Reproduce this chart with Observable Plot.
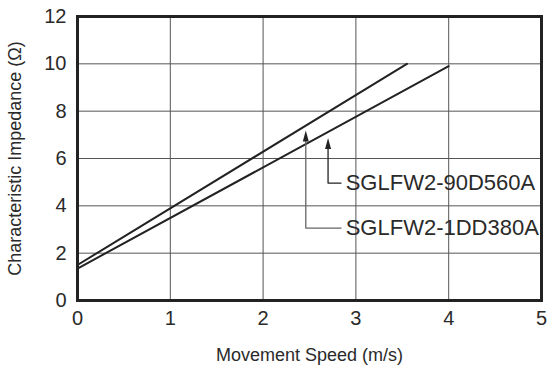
<!DOCTYPE html>
<html><head><meta charset="utf-8">
<script src="https://cdn.jsdelivr.net/npm/d3@7"></script>
<script src="https://cdn.jsdelivr.net/npm/@observablehq/plot@0.6"></script>
<style>body{margin:0;background:#fff}</style>
</head><body><div id="chart"></div>
<script>
// Series: SGLFW2-1DD380A (upper line) and SGLFW2-90D560A (lower line)
const speed1DD380A = [0, 3.55];
const imp1DD380A = [1.5, 10.0];
const speed90D560A = [0, 4.0];
const imp90D560A = [1.35, 9.9];

const xTicks = [0, 1, 2, 3, 4, 5];
const yTicks = [0, 2, 4, 6, 8, 10, 12];
const xGrid = [1, 2, 3, 4];
const yGrid = [2, 4, 6, 8, 10];

const xTitle = "Movement Speed (m/s)";
const yTitle = "Characteristic Impedance (Ω)";

// Callout annotations (data coordinates)
const labelNames = ["SGLFW2-90D560A", "SGLFW2-1DD380A"];
const arrowX = [2.7, 2.46];
const arrowTipY = [6.87, 7.18];
const labelY = [4.96, 3.06];
const elbowEndX = [2.84, 2.84];
const labelX = [2.89, 2.89];
const stemColors = ["#222", "#666"];

const stems = labelNames.flatMap((name, i) => [
  {name, i, x: elbowEndX[i], y: labelY[i]},
  {name, i, x: arrowX[i], y: labelY[i]},
  {name, i, x: arrowX[i], y: arrowTipY[i] - 0.3}
]);

const headShape = {
  draw(context, l) {
    context.moveTo(0, -l);
    context.lineTo(-3, 0);
    context.lineTo(3, 0);
    context.closePath();
  }
};

const chart = Plot.plot({
  width: 548,
  height: 367,
  marginLeft: 77,
  marginRight: 7,
  marginTop: 16,
  marginBottom: 67,
  style: {fontFamily: "'Liberation Sans', Arial, sans-serif", color: "#2a2a2a", background: "#fff"},
  x: {domain: [0, 5]},
  y: {domain: [0, 12]},
  marks: [
    Plot.gridX(xGrid, {stroke: "#555", strokeOpacity: 1, strokeWidth: 1}),
    Plot.gridY(yGrid, {stroke: "#555", strokeOpacity: 1, strokeWidth: 1}),
    Plot.line(speed1DD380A, {x: speed1DD380A, y: imp1DD380A, stroke: "#222", strokeWidth: 2}),
    Plot.line(speed90D560A, {x: speed90D560A, y: imp90D560A, stroke: "#222", strokeWidth: 2}),
    Plot.line(stems, {x: "x", y: "y", z: "name", stroke: d => stemColors[d.i], strokeWidth: 1.3}),
    Plot.vector(labelNames, {x: (d, i) => arrowX[i], y: (d, i) => arrowTipY[i], length: 11, rotate: 0, anchor: "end", shape: headShape, fill: "#222", stroke: "none"}),
    Plot.text(labelNames, {x: (d, i) => labelX[i], y: (d, i) => labelY[i], text: d => d, textAnchor: "start", fontSize: 22, fill: "#2a2a2a"}),
    Plot.frame({stroke: "#222", strokeWidth: 3}),
    Plot.axisX(xTicks, {tickSize: 0, tickPadding: 10, fontSize: 20, label: null}),
    Plot.axisY(yTicks, {tickSize: 0, tickPadding: 11, fontSize: 20, label: null}),
    Plot.text([xTitle], {frameAnchor: "bottom", dy: 55, textAnchor: "middle", lineAnchor: "middle", text: d => d, fontSize: 18, fill: "#2a2a2a"}),
    Plot.text([yTitle], {frameAnchor: "left", dx: -62, textAnchor: "middle", lineAnchor: "middle", rotate: -90, text: d => d, fontSize: 18, fill: "#2a2a2a"})
  ]
});
document.getElementById("chart").append(chart);
</script>
</body></html>
